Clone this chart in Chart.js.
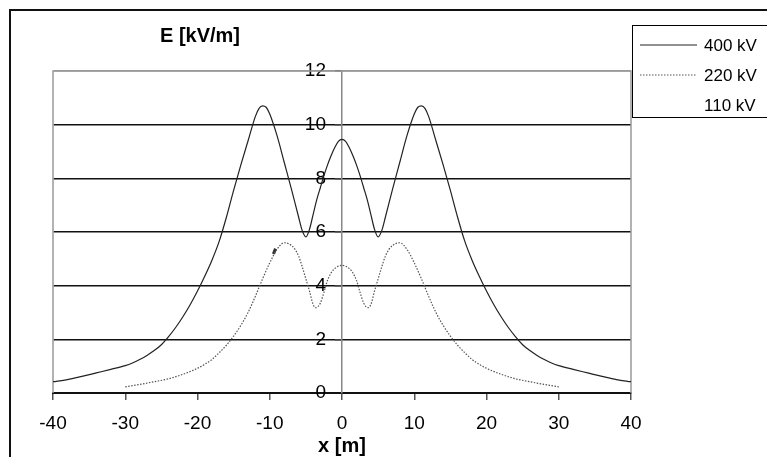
<!DOCTYPE html>
<html>
<head>
<meta charset="utf-8">
<script src="https://cdn.jsdelivr.net/npm/chart.js@4.4.1/dist/chart.umd.min.js"></script>
<style>
  html, body { margin: 0; padding: 0; background: #fff; overflow: hidden; }
  canvas { display: block; }
</style>
</head>
<body>
<canvas id="fieldChart" width="800" height="480"></canvas>
<script>
// distance from line axis [m] and field strength E [kV/m]
const x400 = [-40, -38, -36, -34, -32, -30, -29, -28, -27, -26, -25, -24, -23, -22, -21, -20, -19, -18, -17, -16, -15, -14, -13, -12, -11.5, -11, -10.5, -10, -9, -8, -7, -6, -5.5, -5, -4.5, -4, -3.5, -3, -2.5, -2, -1.5, -1, -0.5, 0,
  0.5, 1, 1.5, 2, 2.5, 3, 3.5, 4, 4.5, 5, 5.5, 6, 7, 8, 9, 10, 10.5, 11, 11.5, 12, 13, 14, 15, 16, 17, 18, 19, 20, 21, 22, 23, 24, 25, 26, 27, 28, 29, 30, 32, 34, 36, 38, 40];
const e400 = [0.42, 0.5, 0.62, 0.75, 0.88, 1.02, 1.12, 1.25, 1.4, 1.58, 1.8, 2.1, 2.45, 2.85, 3.3, 3.8, 4.35, 4.95, 5.65, 6.55, 7.55, 8.5, 9.4, 10.3, 10.6, 10.7, 10.65, 10.4, 9.6, 8.6, 7.6, 6.55, 6.05, 5.82, 6.1, 6.65, 7.2, 7.65, 8.1, 8.5, 8.85, 9.15, 9.38, 9.45,
  9.38, 9.15, 8.85, 8.5, 8.1, 7.65, 7.2, 6.65, 6.1, 5.82, 6.05, 6.55, 7.6, 8.6, 9.6, 10.4, 10.65, 10.7, 10.6, 10.3, 9.4, 8.5, 7.55, 6.55, 5.65, 4.95, 4.35, 3.8, 3.3, 2.85, 2.45, 2.1, 1.8, 1.58, 1.4, 1.25, 1.12, 1.02, 0.88, 0.75, 0.62, 0.5, 0.42];

const x220 = [-30, -28, -26, -24, -22, -20, -19, -18, -17, -16, -15, -14, -13, -12, -11, -10, -9, -8, -7, -6.5, -6, -5.5, -5, -4.5, -4, -3.6, -3, -2.5, -2, -1.5, -1, 0,
  1, 1.5, 2, 2.5, 3, 3.6, 4, 4.5, 5, 5.5, 6, 6.5, 7, 8, 9, 10, 11, 12, 13, 14, 15, 16, 17, 18, 19, 20, 22, 24, 26, 28, 30];
const e220 = [0.23, 0.32, 0.42, 0.53, 0.7, 0.92, 1.07, 1.25, 1.5, 1.78, 2.12, 2.52, 3.0, 3.6, 4.25, 4.85, 5.35, 5.6, 5.5, 5.35, 5.1, 4.7, 4.25, 3.8, 3.3, 3.18, 3.35, 3.75, 4.2, 4.48, 4.64, 4.76,
  4.64, 4.48, 4.2, 3.75, 3.35, 3.18, 3.3, 3.8, 4.25, 4.7, 5.1, 5.35, 5.5, 5.6, 5.35, 4.85, 4.25, 3.6, 3.0, 2.52, 2.12, 1.78, 1.5, 1.25, 1.07, 0.92, 0.7, 0.53, 0.42, 0.32, 0.23];

// 110 kV only shows as a short stroke on the left 220 kV flank
const x110 = [-9.5, -9.2];
const e110 = [5.18, 5.38];

const seriesNames = ["400 kV", "220 kV", "110 kV"];
const xTicks = [-40, -30, -20, -10, 0, 10, 20, 30, 40];
const yTicks = [0, 2, 4, 6, 8, 10, 12];

const toPoints = (xs, ys) => xs.map((x, i) => ({ x, y: ys[i] }));
const FONT = "'Liberation Sans', Arial, sans-serif";

const framePlugin = {
  id: "frame",
  // the value axis crosses the x axis at x = 0
  afterLayout(chart) {
    const y = chart.scales.y;
    const x0 = chart.scales.x.getPixelForValue(0);
    y.left = x0 - 60;
    y.right = x0;
  },
  beforeDraw(chart) {
    const { ctx } = chart;
    ctx.save();
    ctx.strokeStyle = "#111";
    ctx.lineWidth = 2;
    ctx.strokeRect(10, 10, 2000, 2000);
    ctx.restore();
  },
  beforeDatasetsDraw(chart) {
    const { ctx, chartArea } = chart;
    ctx.save();
    ctx.strokeStyle = "#999";
    ctx.lineWidth = 1.5;
    ctx.beginPath();
    ctx.moveTo(chartArea.left, chartArea.bottom);
    ctx.lineTo(chartArea.left, chartArea.top);
    ctx.lineTo(chartArea.right, chartArea.top);
    ctx.lineTo(chartArea.right, chartArea.bottom);
    ctx.stroke();
    ctx.restore();
  },
  afterDraw(chart) {
    const { ctx } = chart;
    ctx.save();
    ctx.fillStyle = "#000";
    ctx.font = "bold 20px " + FONT;
    ctx.textAlign = "left";
    ctx.textBaseline = "alphabetic";
    ctx.fillText("E [kV/m]", 160, 42);
    ctx.textAlign = "center";
    ctx.fillText("x [m]", chart.scales.x.getPixelForValue(0), 452);

    // legend box
    ctx.strokeStyle = "#000";
    ctx.lineWidth = 1;
    ctx.strokeRect(632.5, 25.5, 400, 92);
    ctx.font = "17px " + FONT;
    ctx.textAlign = "left";
    ctx.textBaseline = "middle";
    chart.data.datasets.forEach((ds, i) => {
      const y = 45 + i * 30;
      if (ds.legendSample !== false) {
        ctx.save();
        ctx.strokeStyle = ds.borderColor;
        ctx.lineWidth = ds.borderWidth;
        ctx.setLineDash(ds.borderDash || []);
        ctx.beginPath();
        ctx.moveTo(640, y);
        ctx.lineTo(697, y);
        ctx.stroke();
        ctx.restore();
      }
      ctx.fillText(ds.label, 704, y + 1);
    });
    ctx.restore();
  },
};

new Chart(document.getElementById("fieldChart"), {
  type: "line",
  data: {
    datasets: [
      {
        label: seriesNames[0],
        data: toPoints(x400, e400),
        borderColor: "#222",
        borderWidth: 1.2,
        pointRadius: 0,
        cubicInterpolationMode: "monotone",
      },
      {
        label: seriesNames[1],
        data: toPoints(x220, e220),
        borderColor: "#555",
        borderWidth: 1.2,
        borderDash: [1.5, 1.5],
        pointRadius: 0,
        cubicInterpolationMode: "monotone",
      },
      {
        label: seriesNames[2],
        data: toPoints(x110, e110),
        borderColor: "#333",
        borderWidth: 3,
        pointRadius: 0,
        legendSample: false,
      },
    ],
  },
  options: {
    responsive: false,
    animation: false,
    events: [],
    layout: {
      padding: { left: 53, top: 71, right: 169, bottom: 87 },
    },
    plugins: {
      legend: { display: false },
      tooltip: { enabled: false },
    },
    scales: {
      x: {
        type: "linear",
        position: { y: 0 },
        min: -40,
        max: 40,
        afterBuildTicks: (scale) => {
          scale.ticks = xTicks.map((value) => ({ value }));
        },
        grid: {
          drawOnChartArea: false,
          drawTicks: true,
          tickLength: 6,
          tickColor: "#555",
          lineWidth: 1.5,
        },
        border: { color: "#111", width: 2 },
        ticks: {
          color: "#000",
          font: { family: FONT, size: 19 },
          padding: 13,
          maxRotation: 0,
        },
      },
      y: {
        type: "linear",
        position: "left",
        min: 0,
        max: 12,
        afterFit: (scale) => {
          scale.width = 0;
        },
        afterBuildTicks: (scale) => {
          scale.ticks = yTicks.map((value) => ({ value }));
        },
        grid: {
          color: (ctx) => (ctx.tick && ctx.tick.value === 12 ? "#999" : "#111"),
          lineWidth: 1.5,
          tickLength: 7,
          tickColor: "#444",
        },
        border: { color: "#888", width: 1.5 },
        ticks: {
          color: "#000",
          font: { family: FONT, size: 19 },
          padding: 9,
        },
      },
    },
  },
  plugins: [framePlugin],
});
</script>
</body>
</html>
